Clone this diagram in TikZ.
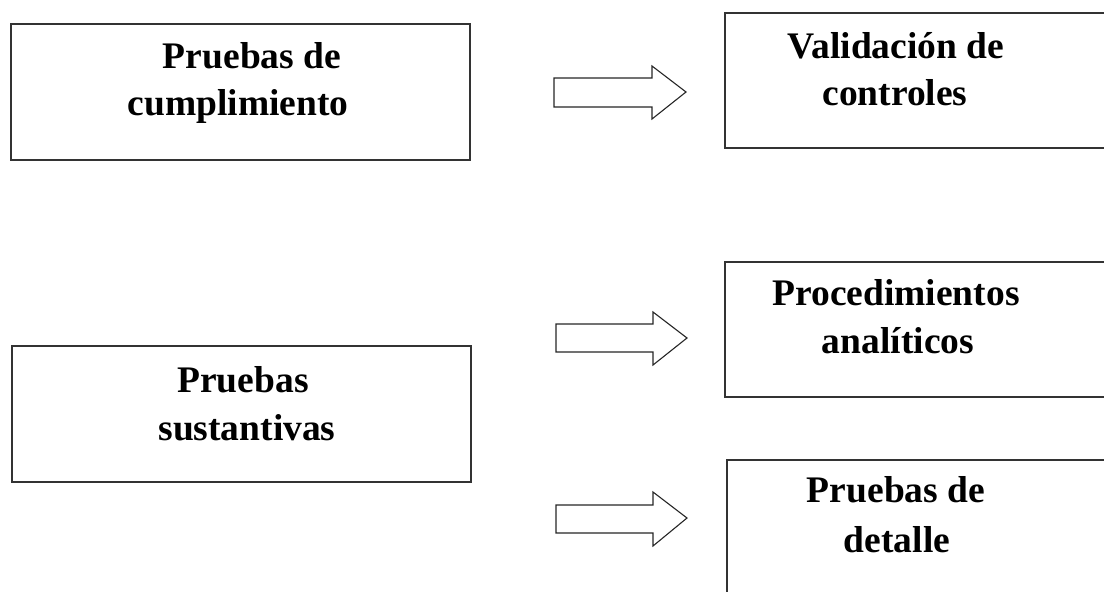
\documentclass[tikz,border=0pt]{standalone}
\usepackage{fontspec}
\setmainfont{Liberation Serif}
\begin{document}
\begin{tikzpicture}[x=1pt,y=-1pt,
  box/.style={draw=black!80,line width=1.4pt,rectangle,inner sep=0pt},
  lbl/.style={anchor=base,inner sep=0pt,font=\fontsize{37.5}{45}\selectfont\bfseries},
  blockarrow/.style={draw=black!85,line width=1.1pt,fill=white,line join=miter}]
\useasboundingbox (0,0) rectangle (1104,592);
\clip (0,0) rectangle (1104,592);
% left boxes
\node[box,minimum width=459pt,minimum height=136pt] (b1) at (240.5,92) {};
\node[box,minimum width=459pt,minimum height=136pt] (b2) at (241.5,414) {};
% right boxes (cut by the frame)
\node[box,minimum width=400pt,minimum height=135pt] (r1) at (925,80.5) {};
\node[box,minimum width=400pt,minimum height=135pt] (r2) at (925,329.5) {};
\node[box,minimum width=400pt,minimum height=160pt] (r3) at (927,540) {};
% texts
\node[lbl] (t1a) at (252,68) {Pruebas de};
\node[lbl] (t1b) at (238,115) {cumplimiento};
\node[lbl] (t2a) at (243,392) {Pruebas};
\node[lbl] (t2b) at (247,440) {sustantivas};
\node[lbl] (r1a) at (896,58) {Validación de};
\node[lbl] (r1b) at (895,105) {controles};
\node[lbl] (r2a) at (896,305) {Procedimientos};
\node[lbl] (r2b) at (898,353) {analíticos};
\node[lbl] (r3a) at (896,502) {Pruebas de};
\node[lbl] (r3b) at (897,552) {detalle};
% block arrows
\draw[blockarrow] (554,78) -- (652,78) -- (652,66) -- (686,92) -- (652,119) -- (652,107) -- (554,107) -- cycle;
\draw[blockarrow] (556,324) -- (653,324) -- (653,312) -- (687,338) -- (653,365) -- (653,352) -- (556,352) -- cycle;
\draw[blockarrow] (556,505) -- (653,505) -- (653,492) -- (687,518) -- (653,546) -- (653,533) -- (556,533) -- cycle;
\end{tikzpicture}
\end{document}
